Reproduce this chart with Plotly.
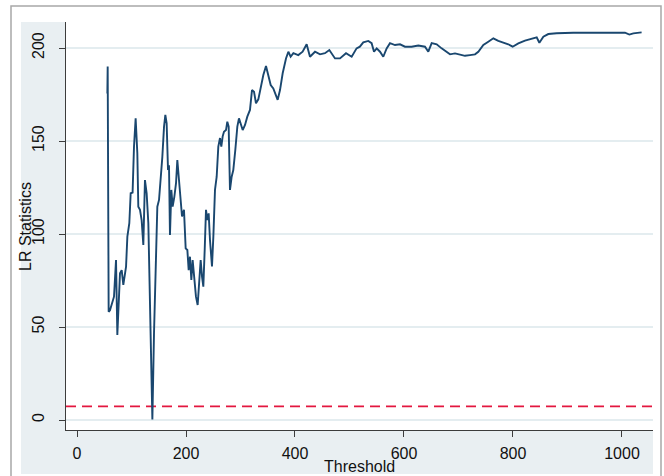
import plotly.graph_objects as go

threshold = [55.7, 56.3, 58.1, 60.5, 67.9, 71.6, 74.0, 78.9, 82.0, 85.0, 90.0, 92.4, 96.0, 98.5,
             102.0, 104.6, 107.6, 110.7, 112.5, 115.6, 118.6, 121.7, 124.7, 127.8, 130.9, 132.7,
             135.8, 138.3, 141.3, 144.4, 147.4, 150.5, 153.5, 156.6, 159.7, 162.1, 164.5, 167.0,
             168.8, 170.6, 173.1, 175.5, 178.6, 181.7, 184.1, 186.5, 190.2, 192.7, 196.3, 199.4,
             202.5, 204.9, 207.3, 209.8, 212.2, 215.3, 218.3, 221.4, 224.5, 226.9, 229.4, 231.8,
             234.3, 236.7, 239.1, 241.6, 244.0, 247.7, 250.2, 253.2, 256.3, 259.3, 262.4, 264.8,
             267.3, 269.7, 273.4, 275.8, 278.3, 280.7, 283.8, 286.8, 290.5, 294.2, 297.2, 300.3,
             304.0, 308.3, 312.5, 317.4, 321.1, 324.8, 328.4, 332.7, 337.0, 341.9, 346.8, 351.1,
             355.4, 360.2, 363.9, 368.2, 372.5, 377.4, 383.5, 387.8, 392.0, 397.0, 406.0, 414.0,
             421.4, 427.5, 436.7, 445.9, 455.0, 463.0, 473.4, 482.6, 493.6, 504.0, 513.0, 519.0,
             525.3, 534.5, 540.6, 545.0, 549.9, 556.0, 562.0, 568.2, 574.3, 583.5, 592.7, 601.8,
             614.0, 626.3, 638.5, 644.6, 650.8, 660.0, 669.0, 678.3, 684.4, 693.6, 702.8, 712.0,
             721.0, 730.3, 736.4, 745.6, 754.7, 763.9, 773.0, 782.2, 791.4, 799.4, 809.8, 822.0,
             834.3, 843.5, 848.4, 855.7, 864.8, 880.0, 910.6, 947.4, 984.0, 1005.5, 1013.5,
             1020.8, 1036.0]

lr_stat = [175.6, 190.0, 58.2, 59.0, 66.3, 86.0, 45.7, 78.9, 80.6, 72.6, 82.5, 98.6, 105.8, 121.9,
           122.3, 147.0, 162.2, 143.4, 114.7, 113.0, 107.5, 94.1, 129.0, 121.9, 105.8, 75.3,
           37.6, 0.3, 46.6, 84.2, 114.7, 118.3, 129.0, 141.5, 157.7, 164.0, 159.5, 134.4,
           137.0, 99.5, 123.7, 114.7, 120.0, 127.3, 139.8, 130.8, 114.7, 109.4, 113.0, 92.3,
           91.4, 80.6, 87.8, 75.3, 86.0, 77.1, 66.3, 61.8, 73.5, 86.0, 77.1, 71.7,
           91.4, 113.0, 107.5, 111.1, 96.8, 82.5, 98.6, 123.7, 130.8, 147.0, 151.6, 147.0,
           152.5, 155.0, 155.9, 160.4, 157.7, 123.7, 130.8, 134.4, 145.2, 157.7, 162.2, 158.6,
           155.9, 158.6, 163.1, 166.7, 177.4, 176.5, 170.3, 172.4, 179.2, 185.5, 190.3, 185.5,
           180.1, 178.3, 175.6, 172.1, 177.4, 186.4, 194.4, 198.0, 195.3, 197.2, 196.2, 198.0,
           202.0, 195.3, 198.0, 196.6, 197.2, 198.9, 194.4, 194.4, 197.2, 195.3, 199.8, 200.7,
           203.0, 203.8, 202.6, 198.0, 199.8, 198.0, 195.3, 199.8, 202.6, 201.6, 202.0, 200.7,
           200.7, 201.3, 200.7, 198.0, 202.6, 202.0, 199.8, 198.0, 196.6, 197.1, 196.6, 195.8,
           196.2, 196.6, 198.0, 201.6, 203.4, 205.2, 203.8, 203.0, 202.0, 200.7, 202.5, 204.0,
           205.2, 205.7, 202.8, 206.1, 207.5, 207.9, 208.2, 208.2, 208.2, 208.2, 207.2,
           207.9, 208.4]

critical_value = 7.35
x_ticks = [0, 200, 400, 600, 800, 1000]
y_ticks = [0, 50, 100, 150, 200]

FONT = "Liberation Sans, Arial, Helvetica, sans-serif"
W, H = 664, 476
L, R, T, B = 66, 653, 22, 430
pw, ph = R - L, B - T

def px(x):
    return (x - L) / pw

def py(y):
    return (B - y) / ph

fig = go.Figure()

fig.add_trace(go.Scatter(
    x=[-20.18, 1056.9], y=[critical_value, critical_value], mode="lines",
    line=dict(color="#e3173f", width=1.6, dash="10px,6px"), hoverinfo="skip",
    showlegend=False))

fig.add_trace(go.Scatter(
    x=threshold, y=lr_stat, mode="lines",
    line=dict(color="#1a476f", width=1.9), showlegend=False))

shapes = [
    # outer frame
    dict(type="rect", xref="paper", yref="paper", x0=px(11), x1=px(661), y0=py(482), y1=py(6),
         line=dict(color="#a8a8a8", width=1.5), fillcolor="white", layer="below"),
    # graph region
    dict(type="rect", xref="paper", yref="paper", x0=px(21), x1=1, y0=py(474), y1=1,
         line=dict(width=0), fillcolor="#e9eff2", layer="below"),
    # plot region
    dict(type="rect", xref="paper", yref="paper", x0=0, x1=1, y0=0, y1=1,
         line=dict(width=0), fillcolor="white", layer="below"),
]

annotations = [
    dict(text="Threshold", xref="paper", yref="paper", x=0.5, y=py(467), xanchor="center",
         yanchor="middle", showarrow=False, font=dict(family=FONT, size=16, color="#111111")),
    dict(text="LR Statistics", xref="paper", yref="paper", x=px(25), y=0.4975, textangle=-90,
         xanchor="center", yanchor="middle", showarrow=False,
         font=dict(family=FONT, size=16, color="#111111")),
]

fig.update_layout(
    width=W, height=H,
    margin=dict(l=L, r=W - R, t=T, b=H - B, pad=0),
    paper_bgcolor="white", plot_bgcolor="white",
    shapes=shapes, annotations=annotations,
    font=dict(family=FONT, size=16, color="#111111"),
    showlegend=False,
)

fig.update_xaxes(
    range=[-20.18, 1056.9], tickvals=x_ticks, ticktext=[str(v) for v in x_ticks],
    showgrid=False, zeroline=False, showline=True, linecolor="#3c3c3c", linewidth=1,
    ticks="outside", ticklen=6, tickcolor="#3c3c3c", tickwidth=1,
    tickfont=dict(family=FONT, size=16, color="#111111"), ticklabelstandoff=3,
)
fig.update_yaxes(
    range=[-5.376, 213.98], tickvals=y_ticks, ticktext=[str(v) for v in y_ticks],
    showgrid=True, gridcolor="#e4edf0", gridwidth=1.5, zeroline=False,
    showline=True, linecolor="#3c3c3c", linewidth=1,
    ticks="outside", ticklen=6, tickcolor="#3c3c3c", tickwidth=1, tickangle=-90,
    tickfont=dict(family=FONT, size=16, color="#111111"), ticklabelstandoff=9,
)

fig.write_html("out.html")
